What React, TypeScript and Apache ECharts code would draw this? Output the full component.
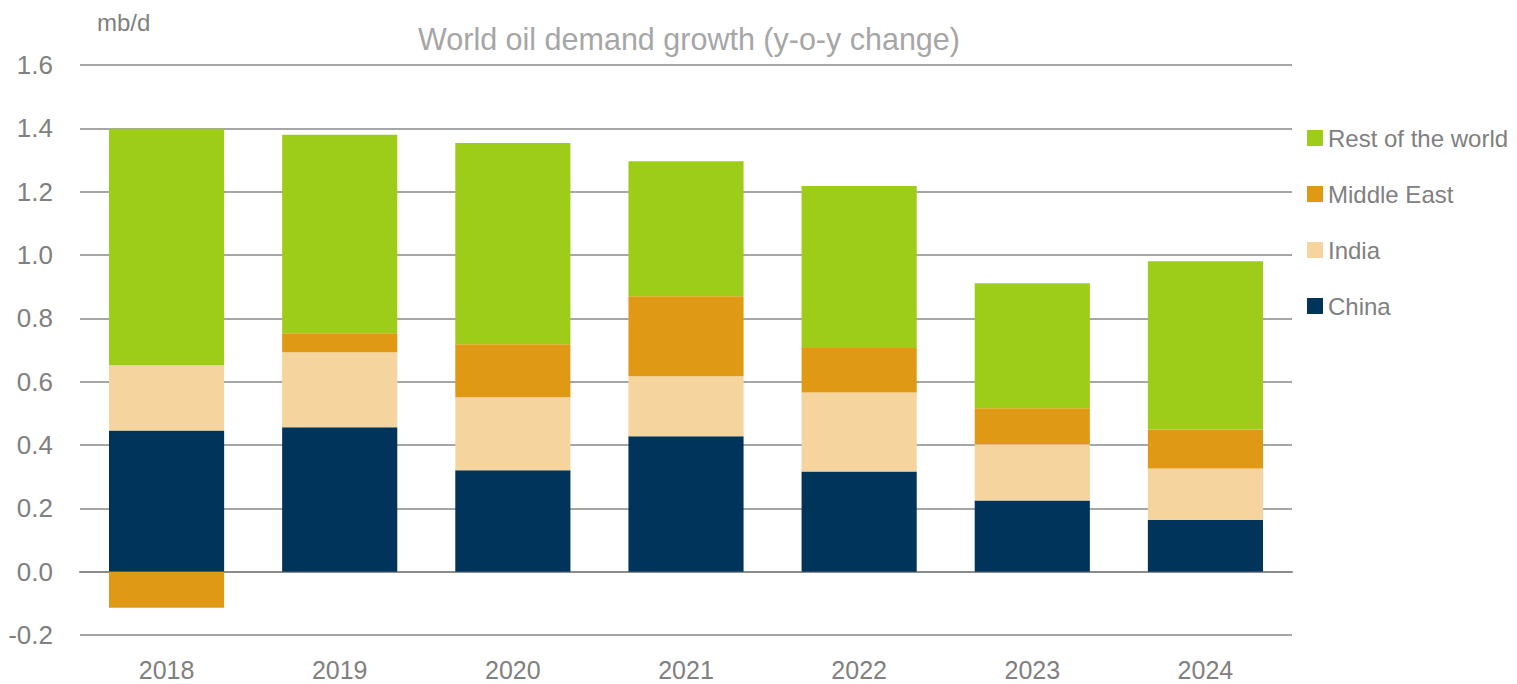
import React, { useEffect, useRef } from "react";
import * as echarts from "echarts";

const years = ["2018", "2019", "2020", "2021", "2022", "2023", "2024"];
const china = [0.446, 0.456, 0.32, 0.428, 0.316, 0.225, 0.163];
const india = [0.206, 0.237, 0.231, 0.189, 0.25, 0.177, 0.163];
const middleEast = [-0.114, 0.06, 0.167, 0.253, 0.14, 0.114, 0.123];
const restOfWorld = [0.747, 0.627, 0.636, 0.426, 0.512, 0.395, 0.531];

const FONT = "'Liberation Sans Narrow', 'Arial Narrow', 'Liberation Sans', Arial, sans-serif";

export default function App() {
  const ref = useRef<HTMLDivElement>(null);
  useEffect(() => {
    if (!ref.current) return;
    const chart = echarts.init(ref.current, undefined, { renderer: "svg" });
    const mk = (name: string, data: number[], color: string) => ({
      name,
      type: "bar",
      stack: "total",
      data,
      barWidth: "66.5%",
      itemStyle: { color },
      emphasis: { disabled: true },
    });
    chart.setOption({
      animation: false,
      textStyle: { fontFamily: FONT },
      title: {
        text: "World oil demand growth (y-o-y change)",
        left: 684,
        textAlign: "center",
        top: 18,
        textStyle: { fontFamily: FONT, fontSize: 30.5, fontWeight: "normal", color: "#a6a6a6" },
      },
      graphic: [
        {
          type: "text",
          left: 97,
          top: 10,
          style: { text: "mb/d", font: `24px ${FONT}`, fill: "#808080" },
        },
      ],
      legend: {
        orient: "vertical",
        left: 1302,
        top: 119,
        itemWidth: 16,
        itemHeight: 16,
        itemGap: 28,
        icon: "rect",
        data: ["Rest of the world", "Middle East", "India", "China"],
        textStyle: { fontFamily: FONT, fontSize: 24, lineHeight: 28, color: "#808080" },
      },
      grid: { left: 80, right: 225, top: 65, bottom: 49, containLabel: false },
      xAxis: {
        type: "category",
        data: years,
        axisTick: { show: false },
        axisLine: { onZero: true, lineStyle: { color: "#8c8c8c", width: 2 } },
        axisLabel: { color: "#808080", fontSize: 25, fontFamily: FONT, margin: 22 },
        position: "bottom",
      },
      yAxis: {
        type: "value",
        min: -0.2,
        max: 1.6,
        interval: 0.2,
        axisLine: { show: false },
        axisTick: { show: false },
        splitLine: { lineStyle: { color: "#a6a6a6", width: 2 } },
        axisLabel: {
          color: "#808080",
          fontSize: 26,
          fontFamily: FONT,
          margin: 27,
          formatter: (v: number) => v.toFixed(1),
        },
      },
      series: [
        mk("China", china, "#00345a"),
        mk("India", india, "#f5d59d"),
        mk("Middle East", middleEast, "#e09915"),
        mk("Rest of the world", restOfWorld, "#9ecd19"),
      ],
    });
    return () => chart.dispose();
  }, []);
  return <div ref={ref} style={{ width: 1517, height: 684, position: "absolute", left: 0, top: 0 }} />;
}
